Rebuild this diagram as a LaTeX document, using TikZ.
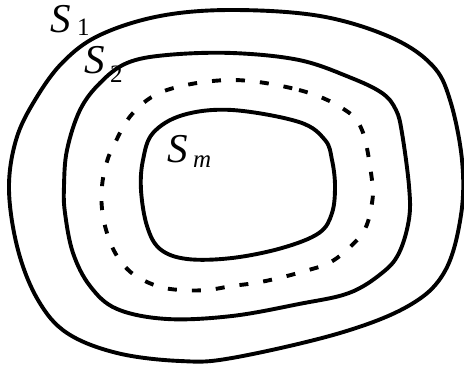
\documentclass[tikz,border=0pt]{standalone}
\usepackage{fontspec}
\setmainfont{Liberation Serif}
\begin{document}
\begin{tikzpicture}[x=1pt,y=-1pt,
  curve/.style={line width=3.9pt, line join=round},
  dashcurve/.style={line width=3.9pt, dash pattern=on 9pt off 15pt},
  lbl/.style={inner sep=0pt, anchor=base west, font=\fontsize{41}{41}\selectfont\itshape},
  sub/.style={inner sep=0pt, anchor=base west, font=\fontsize{25}{25}\selectfont}]
\useasboundingbox (0,0) rectangle (464,372);
\draw[curve] plot[smooth cycle, tension=0.6] coordinates {
 (232,10) (320,16) (390,37) (432,65) (450,100) (462,160) (461,215) (445,271) (410,305) (340,333) (232,358) (180,361) (117,353) (67,333) (38,300) (18,250) (9,190) (16,140) (35,100) (63,62) (100,35) (160,16)};
\draw[curve] plot[smooth cycle, tension=0.6] coordinates {
 (232,53) (299,60) (349,77) (382,93) (396,110) (402,133) (409,186) (409,219) (399,253) (382,273) (349,293) (299,304) (232,316) (167,319) (117,309) (90,286) (73,253) (65,213) (64,186) (67,150) (80,110) (100,83) (127,63) (167,55)};
\draw[dashcurve] plot[smooth cycle, tension=0.6] coordinates {
 (232,80) (299,90) (342,108) (362,130) (372,180) (372,203) (365,229) (349,248) (329,263) (305,271) (279,278) (255,283) (232,286) (207,290) (180,290) (157,286) (133,274) (117,256) (107,233) (102,209) (102,186) (106,165) (113,147) (133,113) (167,90)};
\draw[curve] plot[smooth cycle, tension=0.6] coordinates {
 (232,110) (299,122) (325,140) (332,160) (335,186) (332,213) (319,233) (282,248) (232,258) (187,259) (160,249) (147,226) (141,190) (143,160) (153,133) (183,115)};
\node[lbl] (s1) at (50,32) {S};
\node[sub] (s1i) at (77,35) {1};
\node[lbl] (s2) at (84,74) {S};
\node[sub] (s2i) at (110,82) {2};
\node[lbl] (sm) at (167,162) {S};
\node[sub, font=\fontsize{25}{25}\selectfont\itshape] (smi) at (193,167) {m};
\end{tikzpicture}
\end{document}
